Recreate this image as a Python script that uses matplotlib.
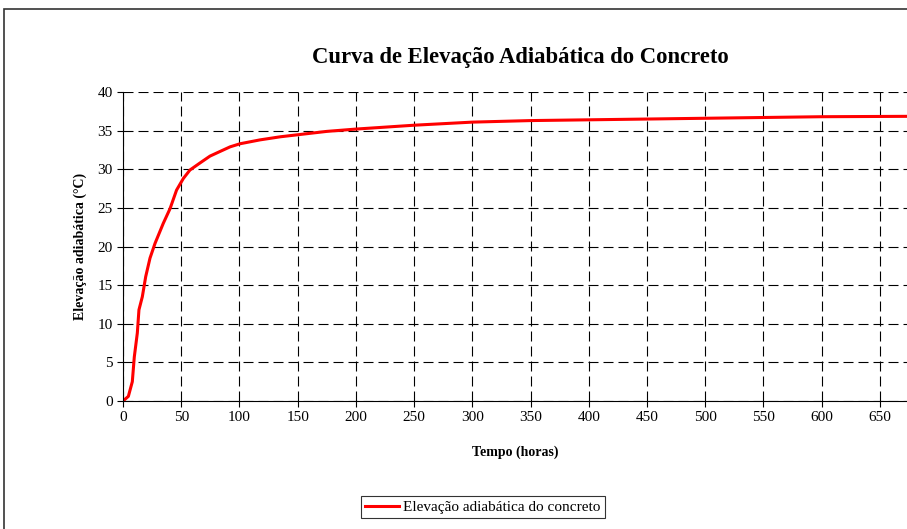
import matplotlib.pyplot as plt
from matplotlib.patches import Rectangle

# leitura aproximada da curva (horas, °C)
horas = [0, 4.6, 8, 9.7, 12.3, 13.7, 16.6, 19.5, 23.2, 27.5, 34.6, 40.4, 46, 51.8,
         57.5, 66, 74.7, 83.3, 92, 100.5, 117.6, 135, 152, 175, 200, 250, 300, 350, 400, 450,
         500, 550, 600, 673]
elevacao = [0, 0.6, 2.5, 5.7, 8.8, 11.8, 13.5, 16.1, 18.5, 20.4, 23.0, 24.9, 27.3, 28.8,
            29.9, 30.8, 31.7, 32.3, 32.9, 33.3, 33.8, 34.2, 34.5, 34.9, 35.2, 35.7, 36.1, 36.3,
            36.4, 36.5, 36.6, 36.7, 36.8, 36.85]

plt.rcParams['font.family'] = 'Liberation Serif'

fig = plt.figure(figsize=(9.07, 5.29), dpi=100)
W, H = 907, 529

# moldura externa
fig.patches.append(Rectangle((4 / W, -0.1), 1.2, 1.1 - 9 / H, transform=fig.transFigure,
                             fill=False, edgecolor='#333333', linewidth=1.2))

ax = fig.add_axes([123 / W, 1 - 401 / H, (938 - 123) / W, (401 - 92) / H])
ax.plot(horas, elevacao, color='#ff0000', linewidth=2.2, label='Elevação adiabática do concreto')
ax.set_xlim(0, 700)
ax.set_ylim(0, 40)
ax.set_xticks(range(0, 651, 50))
ax.set_yticks(range(0, 41, 5))
ax.grid(True, color='black', linestyle=(0, (9, 4.5)), linewidth=0.8)
ax.axvline(700, color='black', linestyle=(0, (9, 4.5)), linewidth=0.8)
ax.spines['top'].set_visible(False)
ax.spines['right'].set_visible(False)
ax.tick_params(labelsize=11, direction='out', length=4)

fig.text(520 / W, 1 - 57 / H, 'Curva de Elevação Adiabática do Concreto',
         fontsize=16.3, fontweight='bold', ha='center', va='center')
fig.text(515 / W, 1 - 452 / H, 'Tempo (horas)', fontsize=10, fontweight='bold',
         ha='center', va='center')
fig.text(80 / W, 1 - 246 / H, 'Elevação adiabática (°C)', fontsize=10, fontweight='bold',
         ha='center', va='center', rotation=90)

leg = fig.legend(loc='center', bbox_to_anchor=(483 / W, 1 - 507 / H), fontsize=11,
                 frameon=True, fancybox=False, edgecolor='black', handlelength=2.2,
                 borderpad=0.3, handletextpad=0.3)
leg.get_frame().set_linewidth(0.8)

fig.savefig('out.png', dpi=100)
